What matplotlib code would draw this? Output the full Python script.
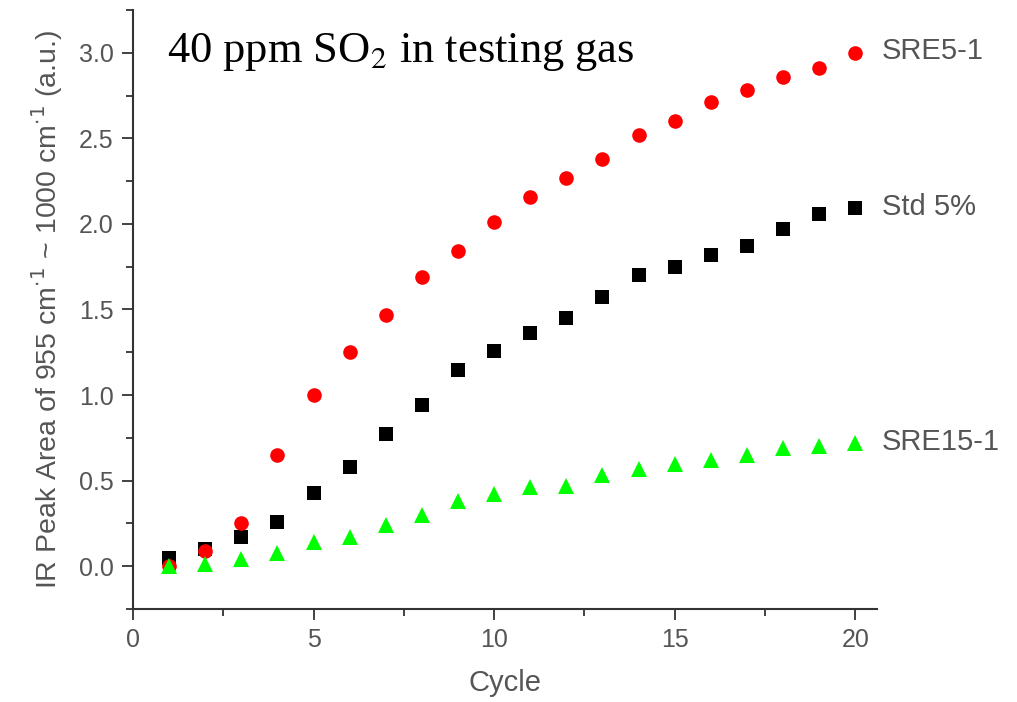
import matplotlib
matplotlib.use("Agg")
import matplotlib.pyplot as plt
from matplotlib.ticker import MultipleLocator

# values
cycles = list(range(1, 21))
sre5_1 = [0.00, 0.09, 0.25, 0.65, 1.00, 1.25, 1.47, 1.69, 1.84, 2.01,
          2.16, 2.27, 2.38, 2.52, 2.60, 2.71, 2.78, 2.86, 2.91, 3.00]
std_5 = [0.05, 0.10, 0.17, 0.26, 0.43, 0.58, 0.77, 0.94, 1.145, 1.26,
         1.36, 1.45, 1.57, 1.70, 1.75, 1.82, 1.87, 1.97, 2.06, 2.09]
sre15_1 = [0.00, 0.01, 0.04, 0.08, 0.14, 0.17, 0.24, 0.30, 0.38, 0.42,
           0.46, 0.47, 0.53, 0.57, 0.60, 0.62, 0.65, 0.69, 0.70, 0.72]
series_names = ["SRE5-1", "Std 5%", "SRE15-1"]

plt.rcParams['font.family'] = ['Liberation Sans', 'DejaVu Sans']
grey = '#555555'
axis_col = '#333333'

fig = plt.figure(figsize=(10.17, 7.02), dpi=100)
ax = fig.add_axes([0.1308, 0.1325, 0.7315, 0.8533])

# draw order: squares, then circles, then triangles
ax.plot(cycles, std_5, 's', color='black', markersize=9.5, markeredgewidth=0)
ax.plot(cycles, sre5_1, 'o', color='#ff0000', markersize=10.5, markeredgewidth=0)
ax.plot(cycles, sre15_1, '^', color='#00ff00', markersize=11.5, markeredgewidth=0)

ax.set_xlim(0, 20.6)
ax.set_ylim(-0.25, 3.25)
ax.xaxis.set_major_locator(MultipleLocator(5))
ax.xaxis.set_minor_locator(MultipleLocator(2.5))
ax.yaxis.set_major_locator(MultipleLocator(0.5))
ax.yaxis.set_minor_locator(MultipleLocator(0.25))
ax.yaxis.set_major_formatter(plt.FormatStrFormatter('%.1f'))

for side in ['top', 'right']:
    ax.spines[side].set_visible(False)
for side in ['left', 'bottom']:
    ax.spines[side].set_color(axis_col)
    ax.spines[side].set_linewidth(1.5)

ax.tick_params(which='major', direction='out', length=8, width=1.3,
               color=axis_col, labelcolor=grey, labelsize=18, pad=6)
ax.tick_params(which='minor', direction='out', length=5, width=1.3, color=axis_col)

ax.set_xlabel('Cycle', fontsize=21, color=grey, labelpad=12)
ax.set_ylabel(r'IR Peak Area of 955 cm$^{\cdot 1}$ ~ 1000 cm$^{\cdot 1}$ (a.u.)',
              fontsize=20.5, color=grey, labelpad=10)

# series labels next to the last point
ends = [sre5_1[-1], std_5[-1], sre15_1[-1]]
for name, yv in zip(series_names, ends):
    ax.annotate(name, xy=(cycles[-1], yv), xytext=(19, 1),
                textcoords='offset points', va='center', ha='left',
                fontsize=21, color=grey, annotation_clip=False)

ax.text(0.045, 0.965, r'40 ppm SO$_2$ in testing gas', transform=ax.transAxes,
        fontsize=32, family='Liberation Serif', va='top', ha='left',
        math_fontfamily='stix')

fig.savefig('out.png', dpi=100)
